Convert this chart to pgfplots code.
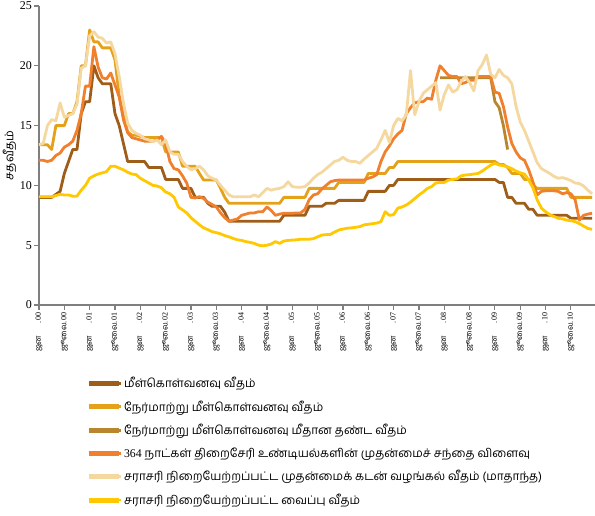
\documentclass[border=0pt]{standalone}
\usepackage{pgfplots}
\pgfplotsset{compat=1.18}
\usepackage{fontspec}
\setmainfont{Liberation Serif}
\newfontfamily\tamil[Script=Tamil]{Hind Madurai}

\definecolor{repo}{HTML}{9E5E1A}
\definecolor{rrepo}{HTML}{E3A21A}
\definecolor{penal}{HTML}{B8862E}
\definecolor{tbill}{HTML}{F0802E}
\definecolor{awpr}{HTML}{F5D8A0}
\definecolor{awdr}{HTML}{FFC800}
\definecolor{axisgray}{HTML}{7F7F7F}

% tick label: month at the bottom, year next to the axis
\newcommand{\xl}[2]{\makebox[27pt][l]{\tamil #1}\,.\,#2}

\begin{document}
\begin{tikzpicture}
\begin{axis}[
    scale only axis,
    width=556pt, height=299pt,
    xmin=0, xmax=131.7, ymin=0, ymax=25,
    axis lines*=left,
    axis line style={axisgray, line width=1.3pt},
    every tick/.style={axisgray, line width=1.1pt},
    tick align=outside, major tick length=5pt,
    xtick={0,6,...,126},
    xticklabels={\xl{ஜன}{00},\xl{ஜூலை}{00},\xl{ஜன}{01},\xl{ஜூலை}{01},
        \xl{ஜன}{02},\xl{ஜூலை}{02},\xl{ஜன}{03},\xl{ஜூலை}{03},
        \xl{ஜன}{04},\xl{ஜூலை}{04},\xl{ஜன}{05},\xl{ஜூலை}{05},
        \xl{ஜன}{06},\xl{ஜூலை}{06},\xl{ஜன}{07},\xl{ஜூலை}{07},
        \xl{ஜன}{08},\xl{ஜூலை}{08},\xl{ஜன}{09},\xl{ஜூலை}{09},
        \xl{ஜன}{10},\xl{ஜூலை}{10}},
    xticklabel style={rotate=90, anchor=east, font=\fontsize{8}{9}\selectfont, inner sep=2pt},
    ytick={0,5,...,25},
    yticklabel style={font=\fontsize{12}{14}\selectfont, inner sep=2pt},
    /pgf/number format/assume math mode=true,
    ylabel={\tamil சதவீதம்},
    ylabel style={font=\fontsize{12}{14}\selectfont, yshift=-2pt},
    line join=round,
    every axis plot/.append style={line width=2.8pt, mark=none},
    legend image code/.code={\draw[line width=5pt] (0pt,0pt) -- (30pt,0pt);
        \path (0pt,0pt) -- (32pt,0pt);},
    legend style={at={(0,0)}, anchor=north west, xshift=44pt, yshift=-68pt,
        draw=none, fill=none, row sep=7.6pt,
        font=\tamil\fontsize{11.8}{13}\selectfont},
    legend cell align=left,
]
% repo rate
\addplot[repo] coordinates {
(0,9) (1,9) (2,9) (3,9) (4,9.25) (5,9.5) (6,11) (7,12) (8,13) (9,13)
(10,16) (11,17) (12,17) (13,20) (14,19) (15,18.5) (16,18.5) (17,18.5) (18,16) (19,15)
(20,13.5) (21,12) (22,12) (23,12) (24,12) (25,12) (26,11.5) (27,11.5) (28,11.5) (29,11.5)
(30,10.5) (31,10.5) (32,10.5) (33,10.5) (34,9.75) (35,9.75) (36,9.75) (37,9) (38,9) (39,9)
(40,8.5) (41,8.25) (42,8.25) (43,8.25) (44,7.75) (45,7) (46,7) (47,7) (48,7) (49,7)
(50,7) (51,7) (52,7) (53,7) (54,7) (55,7) (56,7) (57,7) (58,7.5) (59,7.5)
(60,7.5) (61,7.5) (62,7.5) (63,7.5) (64,8.25) (65,8.25) (66,8.25) (67,8.25) (68,8.5) (69,8.5)
(70,8.5) (71,8.75) (72,8.75) (73,8.75) (74,8.75) (75,8.75) (76,8.75) (77,8.75) (78,9.5) (79,9.5)
(80,9.5) (81,9.5) (82,9.5) (83,10) (84,10) (85,10.5) (86,10.5) (87,10.5) (88,10.5) (89,10.5)
(90,10.5) (91,10.5) (92,10.5) (93,10.5) (94,10.5) (95,10.5) (96,10.5) (97,10.5) (98,10.5) (99,10.5)
(100,10.5) (101,10.5) (102,10.5) (103,10.5) (104,10.5) (105,10.5) (106,10.5) (107,10.5) (108,10.5) (109,10.25)
(110,10.25) (111,9) (112,9) (113,8.5) (114,8.5) (115,8.5) (116,8) (117,8) (118,7.5) (119,7.5)
(120,7.5) (121,7.5) (122,7.5) (123,7.5) (124,7.5) (125,7.5) (126,7.25) (127,7.25) (128,7.25) (129,7.25)
(130,7.25) (131,7.25)
};
\addlegendentry{மீள்கொள்வனவு வீதம்}
% reverse repo rate
\addplot[rrepo] coordinates {
(0,13.4) (1,13.4) (2,13.4) (3,13) (4,15) (5,15) (6,15) (7,16) (8,16) (9,17)
(10,20) (11,20) (12,23) (13,22) (14,22) (15,21.5) (16,21.5) (17,21.5) (18,20.5) (19,17.5)
(20,15.8) (21,14.5) (22,14.2) (23,14.2) (24,14.1) (25,14) (26,14) (27,14) (28,14) (29,14)
(30,12.8) (31,12.8) (32,12.8) (33,12.8) (34,11.6) (35,11.6) (36,11.6) (37,11.6) (38,11) (39,10.45)
(40,10.45) (41,10.45) (42,10.45) (43,9.75) (44,9) (45,8.5) (46,8.5) (47,8.5) (48,8.5) (49,8.5)
(50,8.5) (51,8.5) (52,8.5) (53,8.5) (54,8.5) (55,8.5) (56,8.5) (57,8.5) (58,9) (59,9)
(60,9) (61,9) (62,9) (63,9) (64,9.75) (65,9.75) (66,9.75) (67,9.75) (68,9.75) (69,9.75)
(70,9.75) (71,10.25) (72,10.25) (73,10.25) (74,10.25) (75,10.25) (76,10.25) (77,10.25) (78,11) (79,11)
(80,11) (81,11) (82,11) (83,11.5) (84,11.5) (85,12) (86,12) (87,12) (88,12) (89,12)
(90,12) (91,12) (92,12) (93,12) (94,12) (95,12) (96,12) (97,12) (98,12) (99,12)
(100,12) (101,12) (102,12) (103,12) (104,12) (105,12) (106,12) (107,12) (108,12) (109,11.75)
(110,11.75) (111,11.5) (112,11) (113,11) (114,11) (115,10.5) (116,10.5) (117,10) (118,9.75) (119,9.75)
(120,9.75) (121,9.75) (122,9.75) (123,9.75) (124,9.75) (125,9.75) (126,9) (127,9) (128,9) (129,9)
(130,9) (131,9)
};
\addlegendentry{நேர்மாற்று மீள்கொள்வனவு வீதம்}
% penal rate on reverse repo
\addplot[penal] coordinates {
(95,19) (96,19) (97,19) (98,19) (99,19) (100,19) (101,19) (102,19) (103,19) (104,19)
(105,19) (106,19) (107,19) (108,17) (109,16.5) (110,15) (111,13)
};
\addlegendentry{நேர்மாற்று மீள்கொள்வனவு மீதான தண்ட வீதம்}
% 364-day treasury bill yield
\addplot[tbill] coordinates {
(0,12.1) (1,12.1) (2,12) (3,12.1) (4,12.5) (5,12.7) (6,13.2) (7,13.4) (8,13.7) (9,14.6)
(10,16) (11,18.3) (12,18.3) (13,21.6) (14,19.9) (15,19) (16,18.9) (17,19.4) (18,18.4) (19,17.4)
(20,15.5) (21,14.4) (22,14) (23,13.9) (24,13.8) (25,13.7) (26,13.7) (27,13.7) (28,13.8) (29,14.1)
(30,13.5) (31,12) (32,11.4) (33,11.3) (34,10.8) (35,10.2) (36,9) (37,8.95) (38,9.05) (39,8.9)
(40,8.6) (41,8.4) (42,8.2) (43,7.7) (44,7.3) (45,7) (46,7.1) (47,7.2) (48,7.5) (49,7.6)
(50,7.7) (51,7.7) (52,7.8) (53,7.8) (54,8.2) (55,7.9) (56,7.5) (57,7.6) (58,7.67) (59,7.67)
(60,7.67) (61,7.7) (62,7.7) (63,8) (64,8.8) (65,9.2) (66,9.3) (67,9.7) (68,10) (69,10.3)
(70,10.4) (71,10.45) (72,10.45) (73,10.45) (74,10.45) (75,10.45) (76,10.45) (77,10.45) (78,10.6) (79,10.7)
(80,10.9) (81,12) (82,12.8) (83,13.3) (84,13.9) (85,14.3) (86,14.6) (87,16) (88,16.5) (89,16.9)
(90,17) (91,17) (92,17.3) (93,17.2) (94,18.8) (95,20) (96,19.6) (97,19.2) (98,19.1) (99,19.1)
(100,18.5) (101,18.6) (102,18.8) (103,18.8) (104,19.1) (105,19.1) (106,19.1) (107,19.1) (108,17.8) (109,17.7)
(110,16.6) (111,14.9) (112,13.5) (113,12.8) (114,12.3) (115,12.1) (116,11.3) (117,10.3) (118,9.2) (119,9.5)
(120,9.55) (121,9.55) (122,9.55) (123,9.5) (124,9.3) (125,9.4) (126,9.3) (127,8.8) (128,7.1) (129,7.5)
(130,7.6) (131,7.67)
};
\addlegendentry{{\rmfamily 364} நாட்கள் திறைசேரி உண்டியல்களின் முதன்மைச் சந்தை விளைவு}
% average weighted prime lending rate (monthly)
\addplot[awpr] coordinates {
(0,13.4) (1,13.5) (2,15) (3,15.5) (4,15.4) (5,16.9) (6,15.7) (7,15.85) (8,16) (9,16.8)
(10,19.8) (11,20) (12,22.5) (13,22.85) (14,22.4) (15,22.3) (16,21.9) (17,22) (18,21) (19,19.1)
(20,16.9) (21,15.2) (22,14.6) (23,14.35) (24,14.2) (25,13.9) (26,13.8) (27,13.65) (28,13.8) (29,13.4)
(30,13.8) (31,12.8) (32,12.6) (33,12.6) (34,12) (35,11.6) (36,11.3) (37,11.4) (38,11.6) (39,11.3)
(40,10.8) (41,10.6) (42,10.45) (43,10) (44,9.6) (45,9.2) (46,9.05) (47,9.05) (48,9.05) (49,9.05)
(50,9.05) (51,9.2) (52,9.05) (53,9.4) (54,9.75) (55,9.6) (56,9.7) (57,9.75) (58,9.9) (59,10.3)
(60,9.9) (61,9.85) (62,9.85) (63,9.9) (64,10.2) (65,10.6) (66,10.9) (67,11.1) (68,11.4) (69,11.7)
(70,12) (71,12.1) (72,12.35) (73,12.1) (74,12) (75,12) (76,11.85) (77,12.2) (78,12.5) (79,12.8)
(80,13.1) (81,13.8) (82,14.6) (83,13.6) (84,15) (85,15.6) (86,15.4) (87,15.9) (88,19.6) (89,15.9)
(90,17) (91,17.7) (92,18) (93,18.3) (94,18.6) (95,16.3) (96,17.6) (97,18.4) (98,17.8) (99,18)
(100,18.7) (101,19.1) (102,18.6) (103,17.9) (104,19.6) (105,20.1) (106,20.9) (107,19.3) (108,19) (109,19.7)
(110,19.2) (111,19) (112,18.5) (113,16.6) (114,15.3) (115,14.6) (116,13.7) (117,12.8) (118,11.9) (119,11.4)
(120,11.2) (121,11) (122,10.75) (123,10.6) (124,10.65) (125,10.55) (126,10.4) (127,10.2) (128,10.15) (129,9.95)
(130,9.6) (131,9.3)
};
\addlegendentry{சராசரி நிறையேற்றப்பட்ட முதன்மைக் கடன் வழங்கல் வீதம் (மாதாந்த)}
% average weighted deposit rate
\addplot[awdr] coordinates {
(0,9.05) (1,9.05) (2,9.05) (3,9.05) (4,9.15) (5,9.25) (6,9.2) (7,9.2) (8,9.1) (9,9.1)
(10,9.6) (11,10) (12,10.6) (13,10.8) (14,10.95) (15,11.05) (16,11.15) (17,11.6) (18,11.6) (19,11.45)
(20,11.3) (21,11.1) (22,10.95) (23,10.9) (24,10.6) (25,10.4) (26,10.2) (27,10) (28,9.95) (29,9.8)
(30,9.45) (31,9.3) (32,9) (33,8.2) (34,7.95) (35,7.7) (36,7.3) (37,7) (38,6.7) (39,6.45)
(40,6.3) (41,6.13) (42,6.05) (43,5.95) (44,5.8) (45,5.7) (46,5.57) (47,5.45) (48,5.4) (49,5.3)
(50,5.24) (51,5.15) (52,5) (53,4.95) (54,5) (55,5.1) (56,5.3) (57,5.15) (58,5.35) (59,5.4)
(60,5.43) (61,5.45) (62,5.5) (63,5.5) (64,5.5) (65,5.55) (66,5.7) (67,5.85) (68,5.88) (69,5.9)
(70,6.1) (71,6.27) (72,6.35) (73,6.42) (74,6.45) (75,6.5) (76,6.55) (77,6.7) (78,6.75) (79,6.8)
(80,6.85) (81,6.97) (82,7.8) (83,7.5) (84,7.55) (85,8.1) (86,8.2) (87,8.36) (88,8.6) (89,8.9)
(90,9.2) (91,9.45) (92,9.75) (93,9.9) (94,10.2) (95,10.25) (96,10.25) (97,10.45) (98,10.5) (99,10.55)
(100,10.8) (101,10.87) (102,10.9) (103,10.95) (104,11) (105,11.2) (106,11.45) (107,11.7) (108,11.85) (109,11.7)
(110,11.65) (111,11.55) (112,11.4) (113,11.2) (114,11.05) (115,10.95) (116,10.45) (117,9.8) (118,8.8) (119,8.1)
(120,7.8) (121,7.55) (122,7.4) (123,7.25) (124,7.2) (125,7.1) (126,7.05) (127,6.97) (128,6.8) (129,6.6)
(130,6.4) (131,6.33)
};
\addlegendentry{சராசரி நிறையேற்றப்பட்ட வைப்பு வீதம்}
\end{axis}
\pgfresetboundingbox
\useasboundingbox (-39pt,-210pt) rectangle (556pt,305pt);
\end{tikzpicture}
\end{document}
